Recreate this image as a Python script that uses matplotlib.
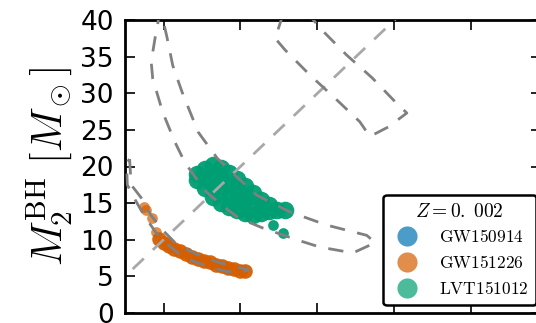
import matplotlib.pyplot as plt
from matplotlib.lines import Line2D

plt.rcParams['mathtext.fontset'] = 'cm'

# samples
gw151226_x = [9.4, 10.1, 10.7, 11.4, 12.1, 12.9, 13.7, 14.5,
              15.3, 16.0, 16.8, 17.6, 18.4, 19.2, 19.9, 20.6]
gw151226_y = [10.1, 9.6, 9.1, 8.7, 8.4, 8.0, 7.7, 7.4,
              7.1, 6.9, 6.6, 6.4, 6.2, 6.0, 5.8, 5.7]
gw151226_tail_x = [7.5, 7.7, 8.5, 9.0]
gw151226_tail_y = [14.5, 14.1, 13.0, 11.1]

lvt151012_x = [14.4, 14.4,
               15.4, 15.4, 15.4,
               16.4, 16.4, 16.4, 16.4,
               17.5, 17.5, 17.5, 17.5,
               18.5, 18.5, 18.5, 18.5,
               19.6, 19.6, 19.6, 19.6,
               20.6, 20.6, 20.6,
               21.6, 21.6, 21.6,
               22.7, 22.7,
               23.7, 23.7,
               24.7, 25.8]
lvt151012_y = [19.0, 18.2,
               19.7, 18.4, 17.0,
               20.2, 18.7, 17.2, 15.8,
               19.8, 18.3, 16.8, 15.0,
               19.1, 17.6, 16.0, 14.5,
               18.3, 16.9, 15.5, 14.1,
               17.4, 15.6, 13.6,
               16.4, 15.0, 13.4,
               15.4, 13.6,
               14.7, 13.9,
               14.1, 14.0]
lvt151012_tail_x = [24.2, 25.5]
lvt151012_tail_y = [12.0, 10.9]

# credible region outlines
c150914_x = [25.5, 24.5, 25.8, 29.0, 32.3, 35.5, 36.8, 39.2, 41.6, 40.3, 37.1, 33.8, 30.6, 29.3]
c150914_y = [40.7, 37.5, 35.9, 32.5, 29.3, 26.1, 24.1, 25.4, 27.3, 28.6, 32.1, 35.2, 38.6, 40.2]

c151226_x = [5.6, 5.8, 7.2, 8.4, 10.0, 11.5, 13.5, 15.5, 17.5, 19.5, 21.0,
             20.0, 18.0, 16.0, 14.0, 12.0, 10.5, 9.0, 7.5, 6.4, 5.3, 5.2, 5.6]
c151226_y = [21.0, 17.5, 15.6, 13.3, 11.2, 9.6, 8.4, 7.5, 6.8, 6.3, 5.9,
             5.5, 5.7, 6.3, 7.0, 8.1, 9.4, 11.0, 13.3, 15.3, 17.5, 20.5, 21.0]

c151012_x = [9.6, 8.9, 8.4, 8.6, 9.9, 11.5, 12.8, 14.1, 15.6, 17.6, 19.7, 22.9,
             27.3, 30.3, 34.6, 37.5, 36.4, 31.2, 26.4, 22.1, 19.5, 17.0, 14.5,
             12.4, 11.2, 10.4, 9.6]
c151012_y = [41.5, 37.5, 34.3, 32.0, 27.4, 23.3, 20.5, 18.6, 16.5, 14.7, 13.0, 11.6,
             10.0, 9.0, 8.2, 9.6, 10.6, 12.0, 13.8, 16.1, 18.6, 21.1, 24.7,
             30.2, 33.8, 37.9, 41.5]

labels = ['GW150914', 'GW151226', 'LVT151012']
colors = ['#0072B2', '#D55E00', '#009E73']

fig = plt.figure(figsize=(5.36, 3.23), dpi=100)
ax = fig.add_axes([125 / 536, 10 / 323, 415.8 / 536, 293 / 323])

ax.scatter(gw151226_x, gw151226_y, s=110, color=colors[1], alpha=0.95, lw=0, zorder=2)
ax.scatter(gw151226_tail_x, gw151226_tail_y, s=60, color=colors[1], alpha=0.7, lw=0, zorder=2)
ax.scatter(lvt151012_x, lvt151012_y, s=160, color=colors[2], alpha=0.95, lw=0, zorder=2)
ax.scatter(lvt151012_tail_x, lvt151012_tail_y, s=60, color=colors[2], alpha=0.95, lw=0, zorder=2)

dash = (0, (5.5, 4.5))
ax.plot([6, 60], [6, 60], color='#a8a8a8', lw=2, ls=dash, zorder=3)
for cx, cy in [(c150914_x, c150914_y), (c151226_x, c151226_y), (c151012_x, c151012_y)]:
    ax.plot(cx, cy, color='#808080', lw=2, ls=dash, zorder=4)

ax.set_xlim(5, 59)
ax.set_ylim(0, 40)
ax.set_xticks([10, 20, 30, 40, 50])
ax.set_yticks([0, 5, 10, 15, 20, 25, 30, 35, 40])
ax.tick_params(direction='in', length=7, width=1.2, top=True, right=True,
               labelbottom=False, labelsize=19, pad=8)
for s in ax.spines.values():
    s.set_linewidth(2)

ax.set_ylabel(r'$M_2^{\rm BH}\ [M_\odot]$', fontsize=30, labelpad=4)

handles = [Line2D([], [], marker='o', ls='none', ms=14.5, color=c, alpha=0.7, mec='none')
           for c in colors]
leg = ax.legend(handles, [r'$\mathrm{%s}$' % l for l in labels],
                title=r'$Z=0.\;002$', loc='lower right',
                bbox_to_anchor=(536 / 536, 18 / 323), bbox_transform=fig.transFigure,
                borderaxespad=0, fontsize=12.5, title_fontsize=14,
                labelspacing=0.45, handletextpad=0.85, borderpad=0.4,
                fancybox=True, framealpha=1)
leg.get_frame().set_edgecolor('black')
leg.get_frame().set_linewidth(1.8)

fig.savefig('out.png', dpi=100)
